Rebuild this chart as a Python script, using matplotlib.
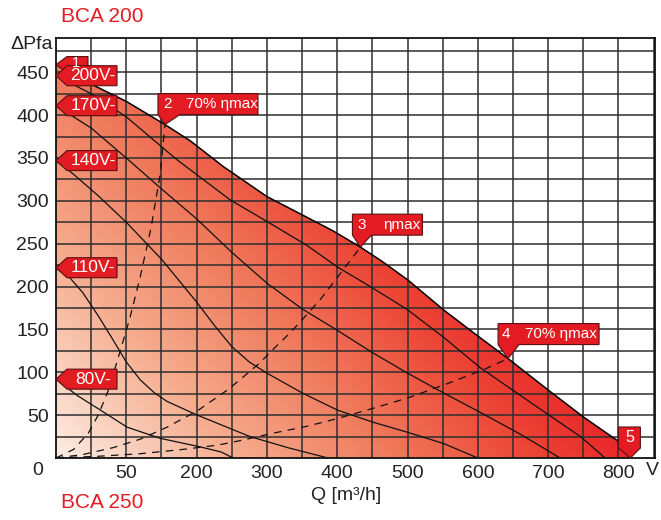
import numpy as np
import matplotlib
matplotlib.use("Agg")
import matplotlib.pyplot as plt
import matplotlib.transforms as mtransforms
from matplotlib.patches import Polygon
from matplotlib.colors import LinearSegmentedColormap

plt.rcParams["font.family"] = ["Liberation Sans", "DejaVu Sans"]

# envelope (max curve)
env_q = [0, 48, 100, 155, 191, 238, 300, 347, 394, 433, 461, 500, 551, 594, 643, 699, 750, 799, 817]
env_p = [459, 437, 416, 389, 370, 340, 305, 285, 265, 246, 231, 208, 173, 146, 116, 80, 48, 20, 0]

# operating points 1..5 on the envelope
op_labels = ["1", "2", "3", "4", "5"]
op_q = [0, 155, 433, 643, 817]
op_p = [459, 389, 246, 116, 0]

# voltage curves
v200_q = [0, 50, 100, 172, 248, 300, 357, 400, 447, 500, 551, 604, 680, 746, 781]
v200_p = [446, 425, 398, 348, 301, 276, 248, 223, 200, 173, 141, 105, 62, 25, 0]
v170_q = [0, 50, 100, 150, 200, 250, 300, 350, 400, 450, 500, 551, 604, 660, 717]
v170_p = [411, 385, 350, 314, 279, 240, 204, 174, 149, 123, 99, 76, 53, 28, 0]
v140_q = [0, 25, 60, 100, 150, 200, 225, 250, 275, 300, 350, 400, 450, 500, 551, 600]
v140_p = [347, 331, 306, 275, 232, 182, 155, 130, 112, 99, 76, 56, 42, 30, 17, 0]
v110_q = [0, 20, 38, 60, 81, 100, 120, 140, 158, 201, 276, 330, 387]
v110_p = [222, 210, 193, 166, 138, 112, 91, 76, 66, 50, 25, 12, 0]
v80_q = [0, 30, 63, 101, 148, 205, 235, 252]
v80_p = [92, 73, 56, 36, 23, 13, 7, 0]
volt_labels = ["200V-", "170V-", "140V-", "110V-", "80V-"]

# efficiency (system) lines
d2_q = [0, 25, 46, 60, 75, 91, 105, 120, 135, 148, 155]
d2_p = [0, 10, 29, 50, 80, 124, 163, 212, 268, 330, 389]
d3_q = [0, 38, 81, 120, 158, 201, 245, 267, 290, 309, 333, 352, 376, 409, 433]
d3_p = [0, 4, 12, 22, 36, 55, 80, 95, 111, 127, 146, 163, 185, 220, 246]
d4_q = [0, 60, 120, 180, 230, 266, 309, 357, 400, 451, 500, 551, 608, 643]
d4_p = [0, 2, 5, 10, 15, 21, 29, 37, 46, 58, 70, 85, 103, 116]

x_ticks = [100, 200, 300, 400, 500, 600, 700, 800]
x_tick_labels = ["50", "200", "300", "400", "500", "600", "700", "800"]
y_ticks = [50, 100, 150, 200, 250, 300, 350, 400, 450]

RED = "#e31b23"
EDGE = "#5a1012"

fig = plt.figure(figsize=(6.61, 5.2), dpi=100)
ax = fig.add_axes([56 / 661, 62 / 520, 599 / 661, 420 / 520])
ax.set_xlim(0, 852)
ax.set_ylim(0, 490)

# gradient fill under the envelope
qq, pp = np.meshgrid(np.linspace(0, 852, 430), np.linspace(0, 490, 250))
shade = 0.001166 * qq + 0.001216 * pp
cmap = LinearSegmentedColormap.from_list(
    "fan",
    [(0, "#fdede4"), (0.3, "#f6ac8e"), (0.55, "#f07c5e"), (0.8, "#ec4535"), (1, "#e81f27")],
)
img = ax.imshow(shade, cmap=cmap, vmin=0, vmax=1, extent=(0, 852, 0, 490),
                origin="lower", aspect="auto", zorder=1, interpolation="bilinear")
clip = Polygon(np.column_stack([env_q + [0], env_p + [0]]), closed=True,
               transform=ax.transData, fc="none", ec="none")
ax.add_patch(clip)
img.set_clip_path(clip)

# grid
ax.set_xticks(x_ticks)
ax.set_xticklabels(x_tick_labels)
ax.set_xticks(np.arange(50, 851, 50), minor=True)
ax.set_yticks(y_ticks)
ax.set_yticks(np.arange(25, 490, 25), minor=True)
ax.set_axisbelow(False)
ax.grid(which="both", color="#2e2e2e", lw=1.1)
ax.tick_params(which="both", length=0, labelsize=14, colors="#222222")
ax.tick_params(axis="x", pad=5)
ax.tick_params(axis="y", pad=5)
for s in ax.spines.values():
    s.set_color("#111111")
    s.set_linewidth(1.3)
    s.set_zorder(4)

# curves
ax.plot(env_q, env_p, color="black", lw=1.1, zorder=3, solid_joinstyle="round")
for q, p in [(v200_q, v200_p), (v170_q, v170_p), (v140_q, v140_p),
             (v110_q, v110_p), (v80_q, v80_p)]:
    ax.plot(q, p, color="#111111", lw=0.9, zorder=3, solid_joinstyle="round")
for q, p in [(d2_q, d2_p), (d3_q, d3_p), (d4_q, d4_p)]:
    ax.plot(q, p, color="#111111", lw=0.9, dashes=(6, 5), zorder=3)


def tag(x, y, verts_px, texts, size):
    trans = fig.dpi_scale_trans + mtransforms.ScaledTranslation(x, y, ax.transData)
    ax.add_patch(Polygon(np.array(verts_px) / 100, closed=True, transform=trans,
                         fc=RED, ec=EDGE, lw=0.8, zorder=6, clip_on=False))
    for dx, dy, s, ha in texts:
        ax.text(dx / 100, dy / 100, s, transform=trans, color="white", fontsize=size,
                ha=ha, va="center", zorder=7, clip_on=False)


# point 1 tag (behind 200V tag)
tag(op_q[0], op_p[0], [(0, 0), (11, 8), (32, 8), (32, -8), (11, -8)],
    [(20, 2, op_labels[0], "center")], 10.5)

# voltage tags at the curve starts
for lab, q, p in zip(volt_labels, [v200_q, v170_q, v140_q, v110_q, v80_q],
                     [v200_p, v170_p, v140_p, v110_p, v80_p]):
    tag(q[0], p[0], [(0, 0), (11, 10), (61, 10), (61, -10), (11, -10)],
        [(37, 0, lab, "center")], 12.5)

# efficiency point tags
tag(op_q[1], op_p[1], [(0, 0), (-7, 10), (-7, 31), (93, 31), (93, 10), (15, 10)],
    [(3, 20.5, op_labels[1], "center"), (21, 20.5, "70% ηmax", "left")], 11)
tag(op_q[2], op_p[2], [(0, 0), (-8, 12), (-8, 33), (62, 33), (62, 12), (11, 12)],
    [(1, 22.5, op_labels[2], "center"), (23, 22.5, "ηmax", "left")], 11)
tag(op_q[3], op_p[3], [(0, 0), (-10, 14), (-10, 35), (91, 35), (91, 14), (11, 14)],
    [(-2, 24.5, op_labels[3], "center"), (17, 24.5, "70% ηmax", "left")], 11)
tag(op_q[4], op_p[4], [(0, 0), (-12, 10), (-12, 31), (10, 31), (10, 10)],
    [(-1, 20, op_labels[4], "center")], 11.5)

# axis texts
ax.text(-0.005, 0.985, "ΔPfa", transform=ax.transAxes, ha="right", va="center",
        fontsize=14, color="#222222")
ax.text(-0.03, -0.029, "0", transform=ax.transAxes, ha="center", va="center",
        fontsize=14, color="#222222")
ax.text(0.995, -0.029, "V", transform=ax.transAxes, ha="center", va="center",
        fontsize=14, color="#222222")
fig.text(346 / 661, 1 - 495 / 520, "Q [m³/h]", ha="center", va="center",
         fontsize=14, color="#222222")
fig.text(61 / 661, 1 - 17 / 520, "BCA 200", ha="left", va="center",
         fontsize=15, color=RED)
fig.text(61 / 661, 1 - 502 / 520, "BCA 250", ha="left", va="center",
         fontsize=15, color=RED)

fig.savefig("out.png", dpi=100)
